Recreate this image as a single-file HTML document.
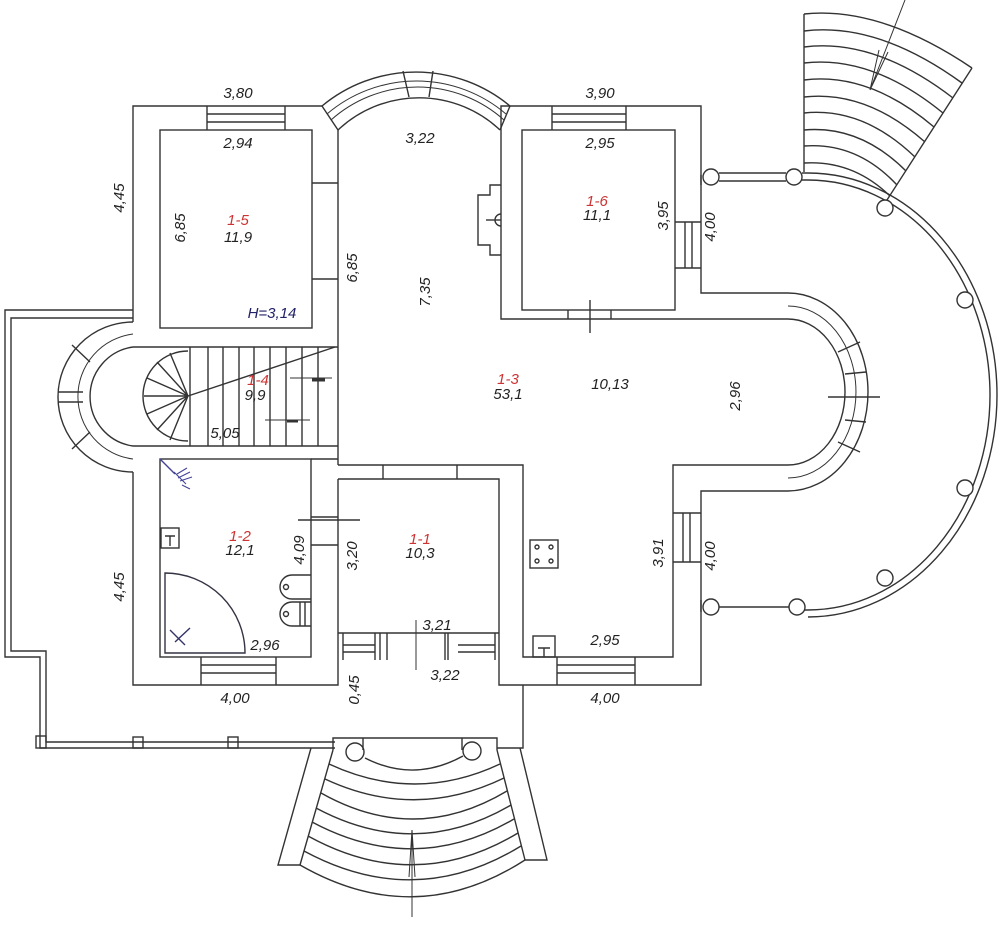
<!DOCTYPE html>
<html><head><meta charset="utf-8"><style>
html,body{margin:0;padding:0;background:#fff}
svg{display:block}
text{font-family:"Liberation Sans",sans-serif;font-style:italic;font-size:15px;fill:#222;text-anchor:middle}
.r{fill:#c33}
.b{fill:#226}
</style></head><body>
<svg width="1000" height="948" viewBox="0 0 1000 948" xmlns="http://www.w3.org/2000/svg">
<g fill="none" stroke="#333" stroke-width="1.4">
<!-- left block outer -->
<path d="M322,106 L133,106 L133,322"/>
<path d="M133,472 L133,685 L338,685 L338,633"/>
<!-- left semicircle bay -->
<path d="M133,322 A75,75 0 0 0 133,472"/>
<path d="M133,347 A50,50 0 0 0 133,446"/>
<path d="M133,334 A63,63 0 0 0 133,459" stroke-width="1"/>
<path d="M58,392 L83,392 M58,402 L83,402 M72,345 L90,362 M72,449 L90,432"/>
<!-- bedroom 1-5 -->
<rect x="160" y="130" width="152" height="198"/>
<path d="M207,106 V130 M285,106 V130 M207,114 H285 M207,122 H285"/>
<path d="M312,183 H338 M312,279 H338"/>
<!-- hall left wall -->
<path d="M338,130 V465"/>
<!-- stairs -->
<path d="M133,347 H338 M133,446 H338"/>
<path d="M188,351 A45,45 0 0 0 188,441"/>
<path d="M188,396 L170,353 M188,396 L157,362 M188,396 L147,378 M188,396 L144,396 M188,396 L147,414 M188,396 L157,430 M188,396 L170,440"/>
<path d="M190,347 V446 M208,347 V446 M223,347 V446 M239,347 V446 M254,347 V446 M270,347 V446 M286,347 V446 M302,347 V446 M318,347 V446"/>
<path d="M188,396 L335,347"/>
<path d="M290,378 H332 M265,420 H310" stroke-width="1"/>
<path d="M312,380 H325 M287,421 H298" stroke-width="3"/>
<!-- top arched bay -->
<path d="M322,106 A147,147 0 0 1 510,106"/>
<path d="M338,130 A118,118 0 0 1 500,130"/>
<path d="M327,114 A138,138 0 0 1 506,114" stroke-width="1"/>
<path d="M331,120 A130,130 0 0 1 504,120" stroke-width="1"/>
<path d="M322,106 L338,130 M510,106 L500,130"/>
<path d="M403,71 L409,97 M433,71 L429,97"/>
<!-- room 1-6 -->
<path d="M510,106 L501,106 V319 H788 M501,106 H701 V293 H788"/>
<rect x="522" y="130" width="153" height="180"/>
<path d="M552,106 V130 M626,106 V130 M552,114 H626 M552,122 H626"/>
<path d="M675,222 H701 M675,268 H701 M685,222 V268 M692,222 V268"/>
<path d="M568,310 V319 M611,310 V319 M590,300 V333"/>
<!-- fireplace -->
<path d="M501,185 H490 V195 H478 V245 H490 V255 H501"/>
<path d="M486,220 H501"/>
<path d="M501,214 A6,6 0 0 0 501,226"/>
<!-- right bay -->
<path d="M788,293 A80,99 0 0 1 788,491"/>
<path d="M788,319 A57,73 0 0 1 788,465"/>
<path d="M788,306 A68,86 0 0 1 788,478" stroke-width="1"/>
<path d="M838,352 L860,342 M845,374 L866,372 M845,420 L866,422 M838,442 L860,452 M828,397 H880"/>
<!-- kitchen / lower right -->
<path d="M788,465 H673 V657 H523 V465 H338"/>
<path d="M788,491 H701 V685 H499 V633"/>
<path d="M557,657 V685 M635,657 V685 M557,665 H635 M557,673 H635"/>
<path d="M673,513 H701 M673,562 H701 M683,513 V562 M690,513 V562"/>
<rect x="530" y="540" width="28" height="28"/>
<circle cx="537" cy="547" r="2"/><circle cx="551" cy="547" r="2"/><circle cx="537" cy="561" r="2"/><circle cx="551" cy="561" r="2"/>
<rect x="533" y="636" width="22" height="21"/>
<path d="M538,648 H550 M544,648 V657"/>
<!-- room 1-1 -->
<path d="M338,479 H499 V633 M338,479 V633"/>
<path d="M383,465 V479 M457,465 V479"/>
<path d="M338,633 H499 M343,633 V660 M375,633 V660 M343,645 H375 M343,652 H375 M448,633 V660 M495,633 V660 M458,645 H495 M458,652 H495 M387,633 V660 M380,633 V660 M445,633 V660"/>
<path d="M416,620 V670" stroke-width="1"/>
<!-- bathroom -->
<rect x="160" y="459" width="151" height="198"/>
<path d="M311,459 H338 M311,517 H338 M311,545 H338 M298,520 H360"/>
<path d="M201,657 V685 M276,657 V685 M201,665 H276 M201,673 H276"/>
<path d="M165,573 A80,80 0 0 1 245,653 H165 Z" stroke="#334"/>
<path d="M175,642 L190,628 M170,630 L185,645" stroke="#336"/>
<rect x="161" y="528" width="18" height="20"/>
<path d="M165,536 H175 M170,536 V546"/>
<path d="M311,575 H292 A12,12 0 0 0 292,599 H311"/>
<path d="M311,602 H292 A12,12 0 0 0 292,626 H311 M300,602 V626 M305,602 V626"/>
<circle cx="286" cy="587" r="2.5"/><circle cx="286" cy="614" r="2.5"/>
<path d="M160,459 L175,474" stroke="#449"/>
<path d="M174,472 L186,484 M178,478 L190,472 M180,481 L192,477 M182,485 L190,489 M177,474 L187,468" stroke="#449" stroke-width="1.1"/>
<!-- terrace -->
<path d="M133,310 H5 V657 H40 V748 H335 M133,318 H11 V651 H46 V742 H335"/>
<rect x="36" y="736" width="10" height="12"/><rect x="133" y="737" width="10" height="11"/><rect x="228" y="737" width="10" height="11"/>
<path d="M523,685 V748 H497"/>
<!-- front stairs -->
<path d="M333,750 V738 H497 V750 M363,738 V750 M462,738 V750"/>
<path d="M311,748 L278,865 H300 M520,748 L547,860 H525"/>
<path d="M333,750 L300,865 M497,750 L525,860"/>
<circle cx="355" cy="752" r="9"/><circle cx="472" cy="751" r="9"/>
<path d="M365,758 Q414,783 463,756"/>
<path d="M329,764 Q415,804 500,764"/>
<path d="M325,779 Q415,821 504,778"/>
<path d="M321,793 Q415,846 507,791"/>
<path d="M316,808 Q415,861 511,805"/>
<path d="M312,822 Q415,877 514,819"/>
<path d="M308,836 Q415,895 518,833"/>
<path d="M304,851 Q415,911 521,846"/>
<path d="M300,865 Q415,931 525,860"/>
<path d="M412,830 V917 M409,877 L412,830 L415,877" stroke-width="1"/>
<!-- porch -->
<circle cx="711" cy="177" r="8"/><circle cx="794" cy="177" r="8"/>
<path d="M719,173 H786 M719,181 H786"/>
<path d="M802,180 H808 A182,215 0 0 1 808,610 H802"/>
<path d="M802,173 H808 A189,222 0 0 1 808,617"/>
<circle cx="885" cy="208" r="8" fill="#fff"/><circle cx="965" cy="300" r="8" fill="#fff"/><circle cx="965" cy="488" r="8" fill="#fff"/><circle cx="885" cy="578" r="8" fill="#fff"/>
<circle cx="797" cy="607" r="8" fill="#fff"/><circle cx="711" cy="607" r="8" fill="#fff"/>
<path d="M719,607 H789"/>
<path d="M701,175 V185 M701,600 V612"/>
<!-- top right stairs -->
<path d="M804,14 V172 M972,68 L887,200"/>
<path d="M804,14 Q880,6 972,68"/>
<path d="M804,31 Q878,22 962,83"/>
<path d="M804,47 Q875,38 953,98"/>
<path d="M804,63 Q872,55 943,113"/>
<path d="M804,80 Q869,72 934,127"/>
<path d="M804,97 Q866,90 925,142"/>
<path d="M804,113 Q863,107 915,157"/>
<path d="M804,130 Q860,125 906,171"/>
<path d="M804,146 Q857,142 897,185"/>
<path d="M804,163 Q853,160 890,196"/>
<path d="M905,0 L870,90 M870,90 L879,50 M870,90 L888,52" stroke-width="1"/>
</g>
<!-- labels -->
<text x="238" y="98">3,80</text>
<text x="238" y="148">2,94</text>
<text transform="translate(124,198) rotate(-90)">4,45</text>
<text transform="translate(185,228) rotate(-90)">6,85</text>
<text x="238" y="225" class="r">1-5</text>
<text x="238" y="242">11,9</text>
<text x="272" y="318" class="b">H=3,14</text>
<text x="420" y="143">3,22</text>
<text transform="translate(357,268) rotate(-90)">6,85</text>
<text transform="translate(430,292) rotate(-90)">7,35</text>
<text x="600" y="98">3,90</text>
<text x="600" y="148">2,95</text>
<text x="597" y="206" class="r">1-6</text>
<text x="597" y="220">11,1</text>
<text transform="translate(668,216) rotate(-90)">3,95</text>
<text transform="translate(715,227) rotate(-90)">4,00</text>
<text x="258" y="385" class="r">1-4</text>
<text x="255" y="400">9,9</text>
<text x="225" y="438">5,05</text>
<text x="508" y="384" class="r">1-3</text>
<text x="508" y="399">53,1</text>
<text x="610" y="389">10,13</text>
<text transform="translate(740,396) rotate(-90)">2,96</text>
<text x="240" y="541" class="r">1-2</text>
<text x="240" y="555">12,1</text>
<text transform="translate(304,550) rotate(-90)">4,09</text>
<text transform="translate(124,587) rotate(-90)">4,45</text>
<text transform="translate(357,556) rotate(-90)">3,20</text>
<text x="420" y="544" class="r">1-1</text>
<text x="420" y="558">10,3</text>
<text x="437" y="630">3,21</text>
<text x="265" y="650">2,96</text>
<text x="235" y="703">4,00</text>
<text transform="translate(359,690) rotate(-90)">0,45</text>
<text x="445" y="680">3,22</text>
<text x="605" y="645">2,95</text>
<text transform="translate(663,553) rotate(-90)">3,91</text>
<text transform="translate(715,556) rotate(-90)">4,00</text>
<text x="605" y="703">4,00</text>
</svg>
</body></html>
